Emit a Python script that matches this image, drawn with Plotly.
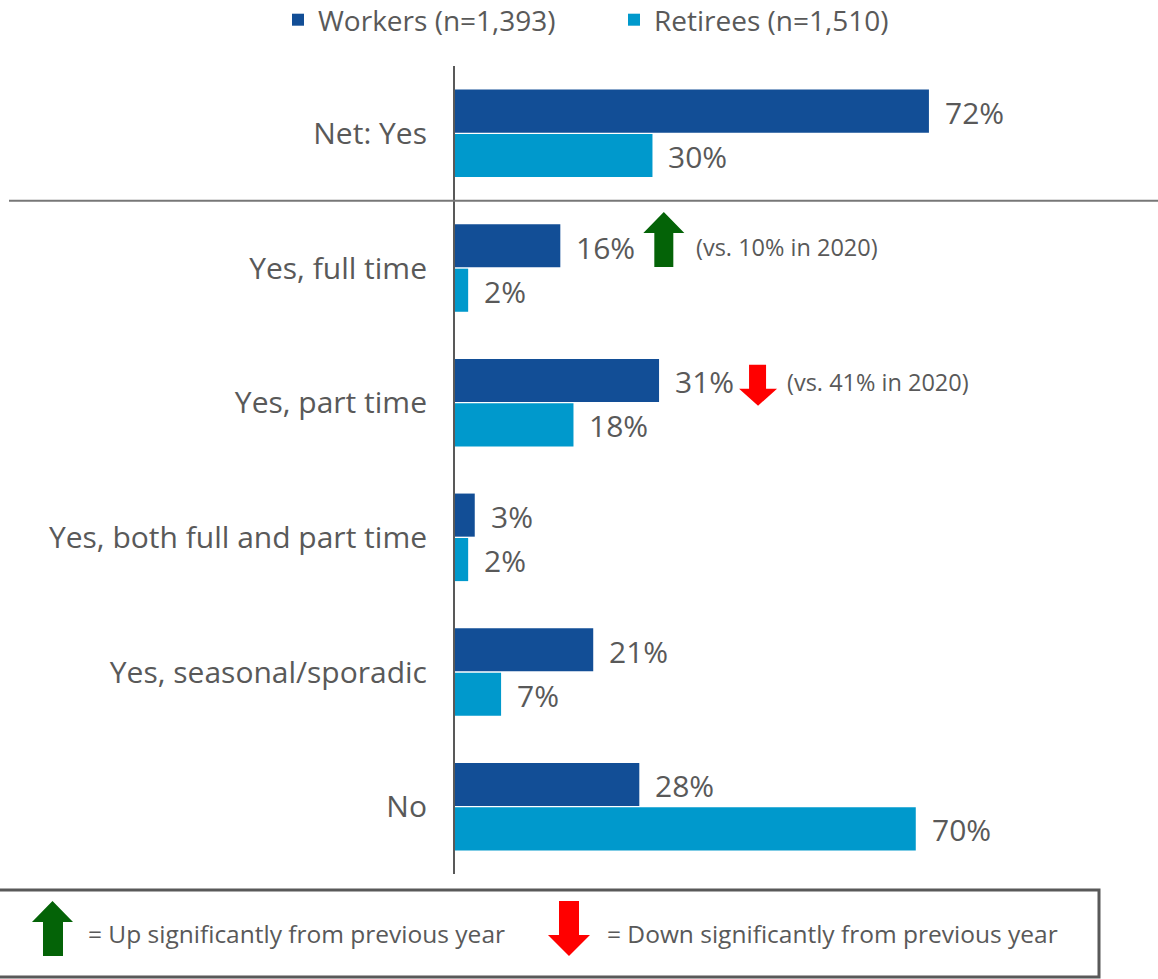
import plotly.graph_objects as go

# Survey categories (top to bottom) and shares in percent
categories = [
    "Net: Yes",
    "Yes, full time",
    "Yes, part time",
    "Yes, both full and part time",
    "Yes, seasonal/sporadic",
    "No",
]
workers = [72, 16, 31, 3, 21, 28]
retirees = [30, 2, 18, 2, 7, 70]
series_names = ["Workers (n=1,393)", "Retirees (n=1,510)"]

# Year-over-year change notes for workers
change_notes = {
    "Yes, full time": ("up", "(vs. 10% in 2020)"),
    "Yes, part time": ("down", "(vs. 41% in 2020)"),
}
key_texts = ["= Up significantly from previous year", "= Down significantly from previous year"]

NAVY = "#124E96"
CYAN = "#0099CC"
GREEN = "#046307"
RED = "#FF0000"
TEXT = "#595959"
FONT = "'Open Sans', Lato, sans-serif"
LABEL_SIZE = 30
LEGEND_SIZE = 28

W, H = 1158, 979
L, T, BOT = 455, 66, 874
PW, PH = W - L, BOT - T
XMAX = 106.8


def px(x):
    return (x - L) / PW


def py(y):
    return (BOT - y) / PH


def vx(v):
    # pixel position of a value on the bar axis
    return L + v * PW / XMAX


def arrow_path(left, right, shaft_l, shaft_r, tail, head_base, tip):
    pts = [
        (shaft_l, tail), (shaft_l, head_base), (left, head_base),
        ((left + right) / 2, tip), (right, head_base), (shaft_r, head_base),
        (shaft_r, tail),
    ]
    return "M " + " L ".join(f"{px(a):.5f},{py(b):.5f}" for a, b in pts) + " Z"


fig = go.Figure()
fig.add_trace(go.Bar(y=categories, x=workers, orientation="h", name=series_names[0],
                     marker=dict(color=NAVY, line=dict(width=0))))
fig.add_trace(go.Bar(y=categories, x=retirees, orientation="h", name=series_names[1],
                     marker=dict(color=CYAN, line=dict(width=0))))

annotations = []
for cat, w, r in zip(categories, workers, retirees):
    annotations.append(dict(x=w, y=cat, xref="x", yref="y", text=f"{w}%", showarrow=False,
                            xanchor="left", yanchor="middle", xshift=14, yshift=21,
                            font=dict(size=LABEL_SIZE, color=TEXT, family=FONT)))
    annotations.append(dict(x=r, y=cat, xref="x", yref="y", text=f"{r}%", showarrow=False,
                            xanchor="left", yanchor="middle", xshift=14, yshift=-23,
                            font=dict(size=LABEL_SIZE, color=TEXT, family=FONT)))

shapes = []
# separator between the net row and its breakdown
shapes.append(dict(type="line", xref="paper", yref="y", x0=px(9), x1=1, y0=0.5, y1=0.5,
                   line=dict(color="#777777", width=2)))

# change markers beside the worker values
for cat, (direction, note) in change_notes.items():
    i = categories.index(cat)
    v = workers[i]
    cy = T + (i + 0.5) * PH / len(categories) - 21
    if direction == "up":
        left = vx(v) + 83
        shapes.append(dict(type="path", xref="paper", yref="paper", line=dict(width=0),
                           fillcolor=GREEN,
                           path=arrow_path(left, left + 41, left + 11, left + 30,
                                           cy + 20, cy - 14, cy - 35)))
        nx = left + 51
    else:
        left = vx(v) + 80
        shapes.append(dict(type="path", xref="paper", yref="paper", line=dict(width=0),
                           fillcolor=RED,
                           path=arrow_path(left, left + 38, left + 10, left + 27,
                                           cy - 17, cy + 7, cy + 24)))
        nx = left + 46
    annotations.append(dict(x=px(nx), y=py(cy), xref="paper", yref="paper", text=note,
                            showarrow=False, xanchor="left", yanchor="middle",
                            font=dict(size=23.5, color=TEXT, family=FONT)))

# key box below the chart
shapes.append(dict(type="rect", xref="paper", yref="paper", x0=px(-2), x1=px(1099),
                   y0=py(977), y1=py(890), line=dict(color="#595959", width=3),
                   fillcolor="rgba(0,0,0,0)"))
shapes.append(dict(type="path", xref="paper", yref="paper", line=dict(width=0), fillcolor=GREEN,
                   path=arrow_path(32, 73, 43, 63, 956, 922, 901)))
shapes.append(dict(type="path", xref="paper", yref="paper", line=dict(width=0), fillcolor=RED,
                   path=arrow_path(548, 590, 559, 579, 901, 935, 956)))
annotations.append(dict(x=px(86), y=py(933), xref="paper", yref="paper", text=key_texts[0],
                        showarrow=False, xanchor="left", yanchor="middle",
                        font=dict(size=24.5, color=TEXT, family=FONT)))
annotations.append(dict(x=px(605), y=py(933), xref="paper", yref="paper", text=key_texts[1],
                        showarrow=False, xanchor="left", yanchor="middle",
                        font=dict(size=24.5, color=TEXT, family=FONT)))

fig.update_layout(
    width=W, height=H,
    margin=dict(l=L, r=0, t=T, b=H - BOT, pad=0, autoexpand=False),
    paper_bgcolor="white", plot_bgcolor="white",
    barmode="group", bargap=0.34, bargroupgap=0.03,
    font=dict(family=FONT, color=TEXT, size=LABEL_SIZE),
    showlegend=True,
    legend=dict(orientation="h", x=px(278), y=py(20), xanchor="left", yanchor="middle",
                font=dict(size=LEGEND_SIZE, color=TEXT, family=FONT), entrywidth=291,
                bgcolor="rgba(0,0,0,0)", traceorder="normal", itemclick=False),
    xaxis=dict(range=[0, XMAX], visible=False, showgrid=False, zeroline=False, fixedrange=True),
    yaxis=dict(autorange="reversed", showline=True, linecolor="#595959", linewidth=2,
               ticks="", showgrid=False, ticklabelstandoff=20,
               tickfont=dict(size=LABEL_SIZE, color=TEXT, family=FONT)),
    shapes=shapes,
    annotations=annotations,
)

fig.write_html("out.html")
